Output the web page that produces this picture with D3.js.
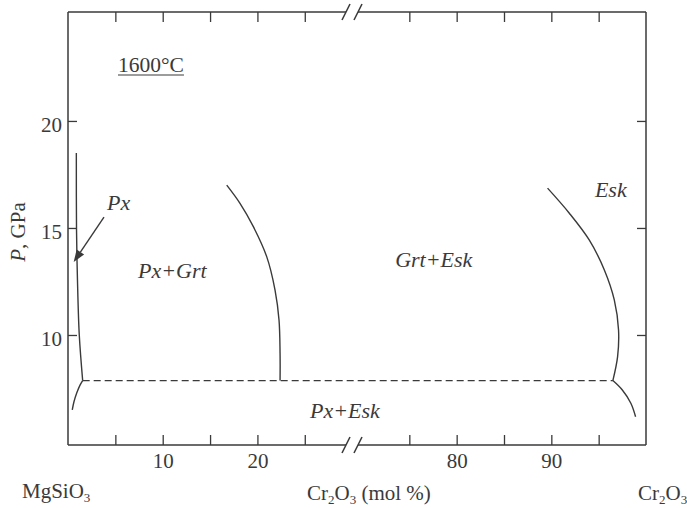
<!DOCTYPE html>
<html>
<head>
<meta charset="utf-8">
<script src="https://cdn.jsdelivr.net/npm/d3@7"></script>
<style>
  body { margin: 0; background: #fff; }
  svg { font-family: "Liberation Serif", "Times New Roman", serif; }
</style>
</head>
<body>
<svg width="687" height="508"></svg>
<script>
// phase boundaries at 1600 C, [Cr2O3 mol %, P GPa]
var pxUpper = [[0.88, 18.5], [0.9, 14.9], [1.0, 12.57], [1.19, 10.0], [1.55, 7.87]];
var pxLower = [[1.55, 7.87], [1.27, 7.66], [0.92, 7.29], [0.63, 6.88], [0.45, 6.5]];
var grtBoundary = [[16.76, 17.0], [18.16, 16.15], [19.57, 15.06], [20.98, 13.66],
                   [21.86, 12.1], [22.28, 10.7], [22.39, 9.16], [22.39, 7.87]];
var eskUpper = [[89.6, 16.86], [91.9, 15.69], [94.0, 14.44], [95.6, 13.04],
                [96.65, 11.64], [97.1, 10.23], [97.0, 8.99], [96.5, 7.87]];
var eskLower = [[96.5, 7.87], [97.5, 7.43], [98.4, 6.81], [98.9, 6.18]];
var reaction = [[1.55, 7.87], [96.5, 7.87]];   // dashed line
var pxArrow = [[3.8, 15.51], [0.6, 13.41]];

var xTicksLeft = [5, 10, 15, 20, 25];
var xTicksRight = [75, 80, 85, 90, 95];
var xLabeled = [10, 20, 80, 90];
var yTicks = [10, 15, 20];

var regionLabels = [
  {text: "Px", x: 4.12, p: 15.84},
  {text: "Px+Grt", x: 7.39, p: 12.66},
  {text: "Grt+Esk", x: 73.5, p: 13.18},
  {text: "Esk", x: 94.6, p: 16.45},
  {text: "Px+Esk", x: 25.55, p: 6.12}
];
var tempLabel = {text: "1600°C", x: 5.28, p: 22.31};

(function() {
var svg = d3.select("svg");
var ink = "#3a3a3a";

var mLeft = 68, mRight = 646, mTop = 12, mBottom = 445;
var breakA = 346, breakB = 358;

var xL = d3.scaleLinear().domain([0, 29.3]).range([mLeft, 345.5]);
var xR = d3.scaleLinear().domain([70, 100]).range([362, mRight]);
function xs(v) { return v < 50 ? xL(v) : xR(v); }
var y = d3.scaleLinear().domain([4.86, 25.09]).range([mBottom, mTop]);

// axes (ticks point inward)
function styleAxis(g) {
  g.select(".domain").remove();
  g.selectAll(".tick line").attr("stroke", ink).attr("stroke-width", 1.3);
  g.selectAll(".tick text").attr("fill", ink).attr("font-size", "21px")
    .attr("font-family", "Liberation Serif, Times New Roman, serif");
}
var fmt = function(d) { return xLabeled.indexOf(d) >= 0 ? d : ""; };

[[xL, xTicksLeft], [xR, xTicksRight]].forEach(function(s) {
  svg.append("g").attr("transform", "translate(0," + mBottom + ")")
    .call(d3.axisBottom(s[0]).tickValues(s[1]).tickSize(-10).tickPadding(8).tickFormat(fmt))
    .call(styleAxis);
  svg.append("g").attr("transform", "translate(0," + mTop + ")")
    .call(d3.axisTop(s[0]).tickValues(s[1]).tickSize(-10).tickFormat(""))
    .call(styleAxis);
});

svg.append("g").attr("transform", "translate(" + mLeft + ",0)")
  .call(d3.axisLeft(y).tickValues(yTicks).tickSize(-9).tickPadding(6))
  .call(styleAxis)
  .selectAll(".tick text").attr("dy", "0.5em");
svg.append("g").attr("transform", "translate(" + mRight + ",0)")
  .call(d3.axisRight(y).tickValues(yTicks).tickSize(-9).tickFormat(""))
  .call(styleAxis);

// frame with broken x axis
var frame = svg.append("g").attr("stroke", ink).attr("stroke-width", 1.5).attr("fill", "none");
[mTop, mBottom].forEach(function(yy) {
  frame.append("line").attr("x1", mLeft).attr("x2", breakA).attr("y1", yy).attr("y2", yy);
  frame.append("line").attr("x1", breakB).attr("x2", mRight).attr("y1", yy).attr("y2", yy);
  [breakA, breakB].forEach(function(bx) {
    frame.append("line").attr("x1", bx - 4).attr("y1", yy + 8).attr("x2", bx + 4).attr("y2", yy - 8);
  });
});
frame.append("line").attr("x1", mLeft).attr("x2", mLeft).attr("y1", mTop).attr("y2", mBottom);
frame.append("line").attr("x1", mRight).attr("x2", mRight).attr("y1", mTop).attr("y2", mBottom);

// phase boundaries
var line = d3.line()
  .x(function(d) { return xs(d[0]); })
  .y(function(d) { return y(d[1]); })
  .curve(d3.curveCatmullRom);

svg.append("g").selectAll("path")
  .data([pxUpper, pxLower, grtBoundary, eskUpper, eskLower])
  .enter().append("path")
  .attr("d", line)
  .attr("fill", "none")
  .attr("stroke", ink)
  .attr("stroke-width", 1.4);

svg.append("path")
  .attr("d", d3.line().x(function(d) { return xs(d[0]); }).y(function(d) { return y(d[1]); })(reaction))
  .attr("fill", "none")
  .attr("stroke", ink)
  .attr("stroke-width", 1.3)
  .attr("stroke-dasharray", "7,4");

// arrow to the Px field
var a0 = [xs(pxArrow[0][0]), y(pxArrow[0][1])], a1 = [xs(pxArrow[1][0]), y(pxArrow[1][1])];
var ang = Math.atan2(a1[1] - a0[1], a1[0] - a0[0]);
var hl = 12, hw = 4.5;
var base = [a1[0] - hl * Math.cos(ang), a1[1] - hl * Math.sin(ang)];
svg.append("line")
  .attr("x1", a0[0]).attr("y1", a0[1]).attr("x2", base[0]).attr("y2", base[1])
  .attr("stroke", ink).attr("stroke-width", 1.4);
svg.append("path")
  .attr("d", "M" + a1[0] + "," + a1[1] +
    "L" + (base[0] + hw * Math.sin(ang)) + "," + (base[1] - hw * Math.cos(ang)) +
    "L" + (base[0] - hw * Math.sin(ang)) + "," + (base[1] + hw * Math.cos(ang)) + "Z")
  .attr("fill", ink);

// region labels
svg.append("g").selectAll("text")
  .data(regionLabels)
  .enter().append("text")
  .attr("x", function(d) { return xs(d.x); })
  .attr("y", function(d) { return y(d.p); })
  .attr("font-size", "22px")
  .attr("font-style", "italic")
  .attr("fill", ink)
  .text(function(d) { return d.text; });

var tl = svg.append("text")
  .attr("x", xs(tempLabel.x)).attr("y", y(tempLabel.p))
  .attr("font-size", "21.5px").attr("fill", ink)
  .text(tempLabel.text);
var tlen = tl.node().getComputedTextLength();
svg.append("line")
  .attr("x1", xs(tempLabel.x)).attr("x2", xs(tempLabel.x) + tlen)
  .attr("y1", y(tempLabel.p) + 3.5).attr("y2", y(tempLabel.p) + 3.5)
  .attr("stroke", ink).attr("stroke-width", 1.2);

// y axis title
var yt = svg.append("text")
  .attr("transform", "translate(25,232) rotate(-90)")
  .attr("text-anchor", "middle")
  .attr("font-size", "21px").attr("fill", ink);
yt.append("tspan").attr("font-style", "italic").text("P");
yt.append("tspan").text(", GPa");

// formula labels with subscripts
function chem(x, yy, parts) {
  var t = svg.append("text").attr("x", x).attr("y", yy)
    .attr("font-size", "21px").attr("fill", ink);
  var shifted = false;
  parts.forEach(function(p) {
    var sub = typeof p === "number";
    var ts = t.append("tspan").text(p);
    if (sub) { ts.attr("font-size", "13px").attr("dy", shifted ? 0 : 4); shifted = true; }
    else { ts.attr("dy", shifted ? -4 : 0); shifted = false; }
  });
  return t;
}
chem(22, 498, ["MgSiO", 3]);
chem(307, 500, ["Cr", 2, "O", 3, " (mol %)"]);
chem(638, 500, ["Cr", 2, "O", 3]);
})();
</script>
</body>
</html>
